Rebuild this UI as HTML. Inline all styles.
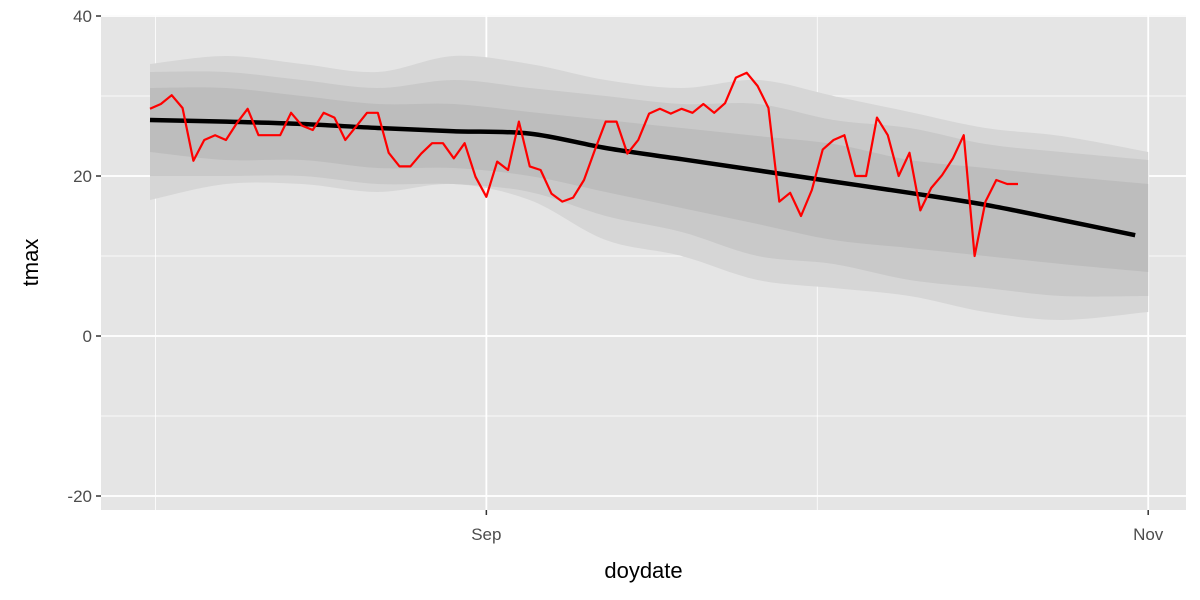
<!DOCTYPE html>
<html><head><meta charset="utf-8"><style>
body{margin:0;background:#fff}
svg{display:block;font-family:"Liberation Sans",Arial,sans-serif}
</style></head><body>
<svg id="chart" width="1200" height="600"></svg>
<script>
// data
const days = [0,7,14,21,28,35,42,49,56,63,70,77,84,92];
const outerTop = [34,35,34,33,35,34,32,31,32,30,28,26,25,23];
const outerBottom = [17,19,19,18,19,17,12,10,7,6,5,3,2,3];
const midTop = [33,33,32,31,32,31,30,29,29,27,26,24,23,22];
const midBottom = [20,20,20,19,19,18,15,13,10,9,7,6,5,5];
const coreTop = [31,31,30,29,29,28,27,26,25,24,22,21,20,19];
const coreBottom = [23,22,22,21,21,20,18,16,14,12,11,10,9,8];
const smoothDays = [0,7,14,21,28,35,42,49,56,63,70,77,84,90.8];
const smoothVals = [27.0,26.8,26.5,26.0,25.6,25.3,23.5,22.1,20.7,19.3,17.9,16.4,14.5,12.6];
const redVals = [28.4,29.0,30.1,28.5,21.9,24.5,25.1,24.5,26.6,28.4,25.1,25.1,25.1,27.9,26.3,25.75,27.9,27.3,24.5,26.2,27.9,27.9,22.9,21.2,21.2,22.8,24.1,24.1,22.2,24.1,19.9,17.4,21.8,20.75,26.8,21.2,20.75,17.8,16.8,17.3,19.5,23.25,26.8,26.8,22.8,24.5,27.8,28.4,27.8,28.4,27.9,29.0,27.9,29.1,32.3,32.9,31.25,28.5,16.8,17.9,15.0,18.25,23.3,24.5,25.1,20.0,20.0,27.3,25.1,20.0,22.9,15.7,18.5,20.1,22.2,25.1,10.0,16.8,19.5,19.0,19.0];
const yTicks = [40,20,0,-20];
const yMinor = [30,10,-10];
const xTicks = [{d:31,l:"Sep"},{d:92,l:"Nov"}];
const xMinor = [0.5,61.5];

const NS="http://www.w3.org/2000/svg";
const svg=document.getElementById('chart');
const L=101,R=1186,T=15,B=510;
const x=d=>150+d*10.85;
const y=v=>336-v*8;
function mk(tag,attrs,parent){const e=document.createElementNS(NS,tag);for(const k in attrs)e.setAttribute(k,attrs[k]);(parent||svg).appendChild(e);return e;}
function smoothPath(pts){let d='M'+pts[0][0]+','+pts[0][1];for(let i=0;i<pts.length-1;i++){const p0=pts[i-1]||pts[i],p1=pts[i],p2=pts[i+1],p3=pts[i+2]||p2;d+='C'+(p1[0]+(p2[0]-p0[0])/6)+','+(p1[1]+(p2[1]-p0[1])/6)+' '+(p2[0]-(p3[0]-p1[0])/6)+','+(p2[1]-(p3[1]-p1[1])/6)+' '+p2[0]+','+p2[1];}return d;}

const panel=mk('rect',{x:L,y:T,width:R-L,height:B-T,fill:'#e5e5e5'});


yMinor.forEach(v=>{const g=mk('line',{x1:L,x2:R,y1:y(v),y2:y(v),stroke:'#fff','stroke-width':0.8});

});
xMinor.forEach(d=>{const g=mk('line',{x1:x(d),x2:x(d),y1:T,y2:B,stroke:'#fff','stroke-width':0.8});

});
yTicks.forEach(v=>{const g=mk('line',{x1:L,x2:R,y1:y(v),y2:y(v),stroke:'#fff','stroke-width':1.8});


const t=mk('line',{x1:L-5,x2:L,y1:y(v),y2:y(v),stroke:'#333','stroke-width':1.5});


const lb=mk('text',{x:L-9,y:y(v)+6,'text-anchor':'end','font-size':17,fill:'#4d4d4d'});lb.textContent=v;

});
xTicks.forEach(o=>{const g=mk('line',{x1:x(o.d),x2:x(o.d),y1:T,y2:B,stroke:'#fff','stroke-width':1.8});


const t=mk('line',{x1:x(o.d),x2:x(o.d),y1:B,y2:B+5,stroke:'#333','stroke-width':1.5});


const lb=mk('text',{x:x(o.d),y:B+30,'text-anchor':'middle','font-size':17,fill:'#4d4d4d'});lb.textContent=o.l;

});

function band(top,bot,fill,name){
  const up=days.map((d,i)=>[x(d),y(top[i])]);
  const dn=days.map((d,i)=>[x(d),y(bot[i])]).reverse();
  const d=smoothPath(up)+'L'+dn[0][0]+','+dn[0][1]+smoothPath(dn).replace(/^M[^C]*/,'')+'Z';
  const e=mk('path',{d:d,fill:fill});
  
  
}
band(outerTop,outerBottom,'#d6d6d6','gray-years-outer-band');
band(midTop,midBottom,'#c9c9c9','gray-years-mid-band');
band(coreTop,coreBottom,'#bdbdbd','gray-years-core-band');

const sp=mk('path',{d:smoothPath(smoothDays.map((d,i)=>[x(d),y(smoothVals[i])])),fill:'none',stroke:'#000','stroke-width':4.5,'stroke-linejoin':'round'});



const rp=mk('polyline',{points:redVals.map((v,i)=>x(i)+','+y(v)).join(' '),fill:'none',stroke:'#ff0000','stroke-width':2.2,'stroke-linejoin':'round'});



const xt=mk('text',{x:(L+R)/2,y:578,'text-anchor':'middle','font-size':22,fill:'#000'});xt.textContent='doydate';


const yt=mk('text',{x:0,y:0,'text-anchor':'middle','font-size':22,fill:'#000',transform:'translate(38,'+((T+B)/2)+') rotate(-90)'});yt.textContent='tmax';


</script>
</body></html>
